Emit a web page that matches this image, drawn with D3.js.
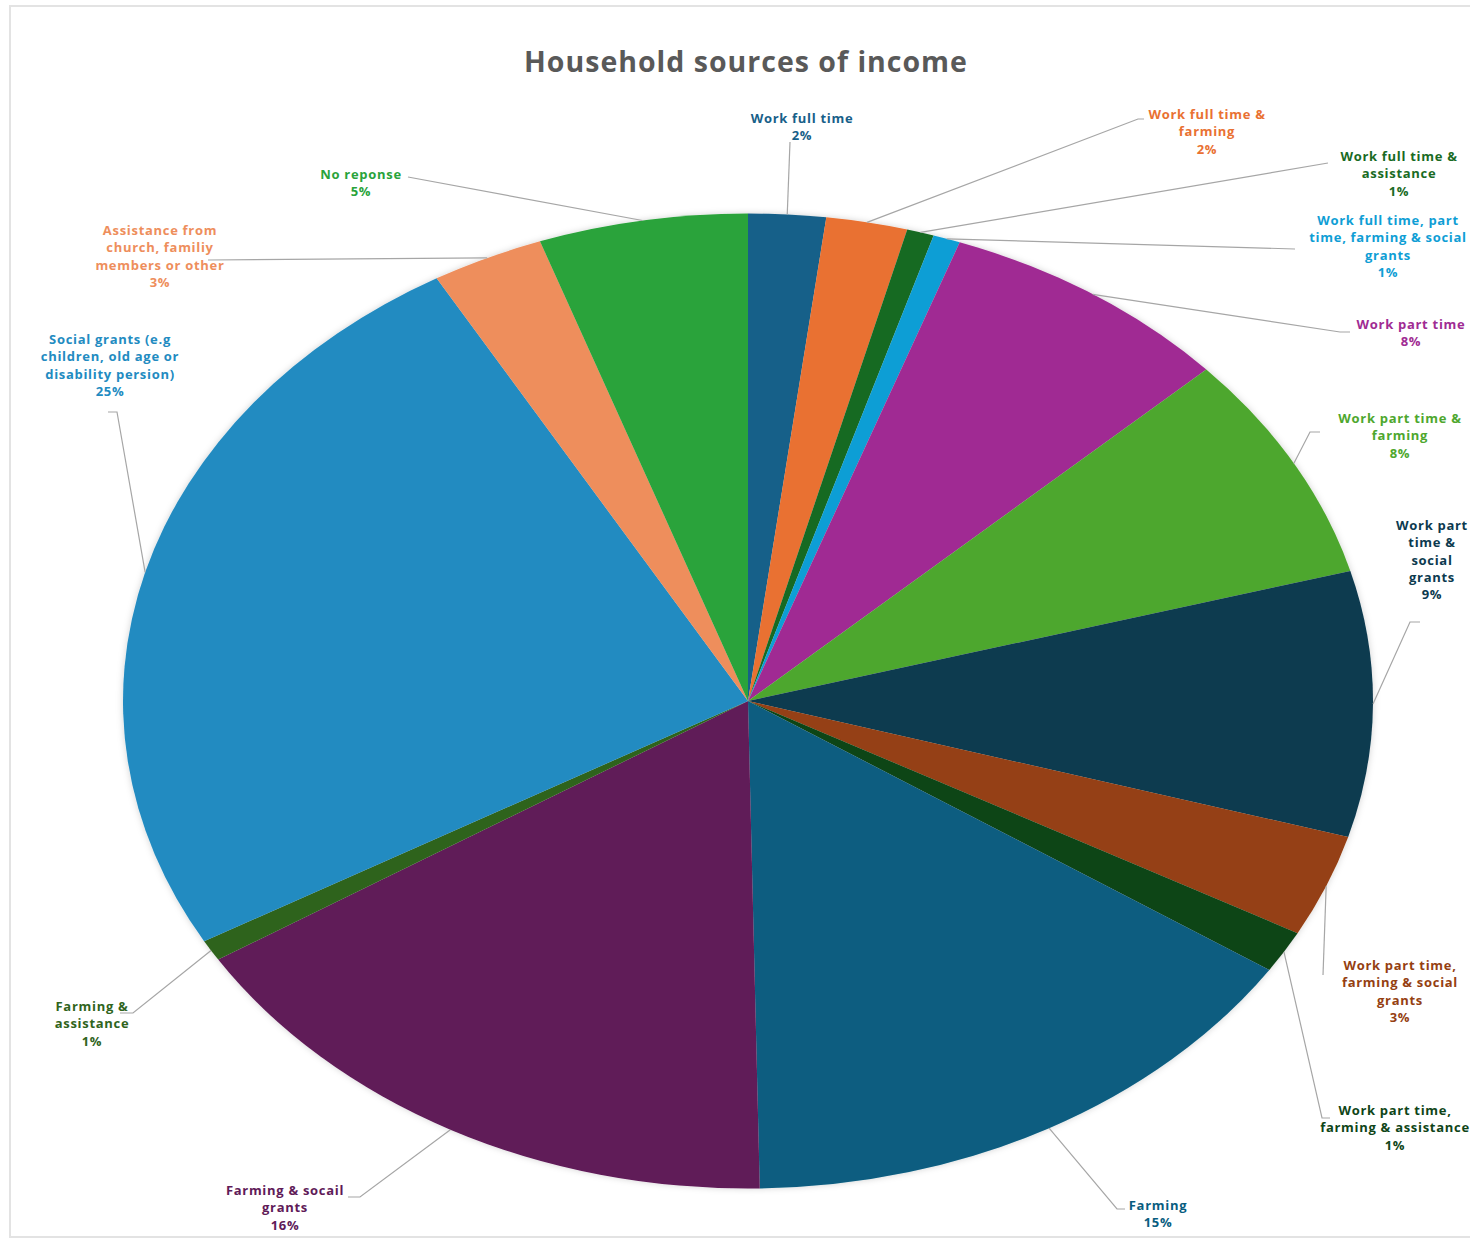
<!DOCTYPE html>
<html>
<head>
<meta charset="utf-8">
<script src="https://cdn.jsdelivr.net/npm/d3@7"></script>
<style>
  html, body { margin: 0; padding: 0; background: #ffffff; overflow: hidden; }
  svg { display: block; }
</style>
</head>
<body>
<svg id="chart" width="1470" height="1239"></svg>
<script>
// Household income sources, share of respondents (%)
const categories = [
  "Work full time",
  "Work full time & farming",
  "Work full time & assistance",
  "Work full time, part time, farming & social grants",
  "Work part time",
  "Work part time & farming",
  "Work part time & social grants",
  "Work part time, farming & social grants",
  "Work part time, farming & assistance",
  "Farming",
  "Farming & socail grants",
  "Farming & assistance",
  "Social grants (e.g children, old age or disability persion)",
  "Assistance from church, familiy members or other",
  "No reponse"
];
const shares = [2.0, 2.1, 0.7, 0.7, 7.6, 7.6, 8.8, 3.4, 1.4, 15.4, 16.4, 0.7, 24.9, 2.9, 5.4];

const colors = [
  "#176089", "#e97132", "#196b24", "#0f9ed5", "#a02b93", "#4ea72e",
  "#0c3a4f", "#953f12", "#0f4518", "#095d80", "#601a58", "#2f641c",
  "#228bc1", "#ee8e5c", "#29a33a"
];

// Label placement: text centre, first line y, words per line, leader elbow and tail
const labelLayout = [
  { x: 802,  y: 118,  words: [3],       elbow: [790, 142],   tail: null },
  { x: 1207, y: 114,  words: [4, 1],    elbow: [1138, 119],  tail: 1144 },
  { x: 1399, y: 156,  words: [4, 1],    elbow: [1328, 163],  tail: null },
  { x: 1388, y: 220,  words: [4, 4, 1], elbow: [1295, 249],  tail: null },
  { x: 1411, y: 324,  words: [3],       elbow: [1340, 332],  tail: 1350 },
  { x: 1400, y: 418,  words: [4, 1],    elbow: [1310, 432],  tail: 1320 },
  { x: 1432, y: 525,  words: [2, 2, 1, 1], elbow: [1410, 622], tail: 1420 },
  { x: 1400, y: 965,  words: [3, 3, 1], elbow: [1323, 975],  tail: null },
  { x: 1395, y: 1110, words: [3, 3],    elbow: [1322, 1118], tail: 1330 },
  { x: 1158, y: 1205, words: [1],       elbow: [1117, 1209], tail: 1125 },
  { x: 285,  y: 1190, words: [3, 1],    elbow: [360, 1197],  tail: 348 },
  { x: 92,   y: 1006, words: [2, 1],    elbow: [133, 1013],  tail: 120 },
  { x: 110,  y: 339,  words: [3, 4, 2], elbow: [117, 412],   tail: 108 },
  { x: 160,  y: 230,  words: [2, 2, 3], elbow: [208, 260],   tail: null },
  { x: 361,  y: 174,  words: [2],       elbow: [408, 177],   tail: null }
];

const svg = d3.select("#chart");

// chart frame
svg.append("rect")
  .attr("x", 10).attr("y", 6)
  .attr("width", 1500).attr("height", 1231)
  .attr("fill", "#ffffff")
  .attr("stroke", "#e3e3e3")
  .attr("stroke-width", 2);

// title
svg.append("text")
  .attr("x", 746).attr("y", 72)
  .attr("text-anchor", "middle")
  .attr("font-family", "'Open Sans', sans-serif")
  .attr("font-weight", 700)
  .attr("font-size", 28.5)
  .attr("letter-spacing", "1px")
  .attr("fill", "#595959")
  .text("Household sources of income");

// soft shadow round the pie
const defs = svg.append("defs");
const f = defs.append("filter").attr("id", "pieShadow")
  .attr("x", "-10%").attr("y", "-10%").attr("width", "120%").attr("height", "120%");
f.append("feDropShadow")
  .attr("dx", 0).attr("dy", 0).attr("stdDeviation", 3)
  .attr("flood-color", "#000").attr("flood-opacity", 0.18);

const cx = 748, cy = 701, rx = 625, ry = 487.5;

const pie = d3.pie().sort(null).value(d => d)(shares);
const arc = d3.arc().innerRadius(0).outerRadius(ry);

const pieG = svg.append("g")
  .attr("filter", "url(#pieShadow)")
  .attr("transform", `translate(${cx},${cy}) scale(${rx / ry},1)`);

pieG.selectAll("path")
  .data(pie)
  .join("path")
  .attr("d", arc)
  .attr("fill", (d, i) => colors[i]);

const total = d3.sum(shares);
const fmt = v => Math.round(v / total * 100) + "%";

// leader lines from the rim at each slice's mid angle
const edgePoint = d => {
  const a = (d.startAngle + d.endAngle) / 2;
  return [cx + rx * Math.sin(a), cy - ry * Math.cos(a)];
};

const leaderG = svg.append("g")
  .attr("fill", "none")
  .attr("stroke", "#a6a6a6")
  .attr("stroke-width", 1.2);

pie.forEach((d, i) => {
  const L = labelLayout[i];
  const pts = [edgePoint(d), L.elbow];
  if (L.tail !== null) pts.push([L.tail, L.elbow[1]]);
  leaderG.append("path").attr("d", d3.line()(pts));
});

// data labels
const lineH = 17.3;
const labelG = svg.append("g")
  .attr("font-family", "'Open Sans', sans-serif")
  .attr("font-weight", 700)
  .attr("font-size", 13)
  .attr("letter-spacing", "0.7px")
  .attr("text-anchor", "middle");

pie.forEach((d, i) => {
  const L = labelLayout[i];
  const words = categories[i].split(" ");
  const lines = [];
  let k = 0;
  L.words.forEach(n => { lines.push(words.slice(k, k + n).join(" ")); k += n; });
  lines.push(fmt(d.value));
  const t = labelG.append("text")
    .attr("fill", colors[i])
    .attr("dominant-baseline", "central");
  lines.forEach((s, j) => {
    t.append("tspan")
      .attr("x", L.x)
      .attr("y", L.y + j * lineH)
      .text(s);
  });
});
</script>
</body>
</html>
